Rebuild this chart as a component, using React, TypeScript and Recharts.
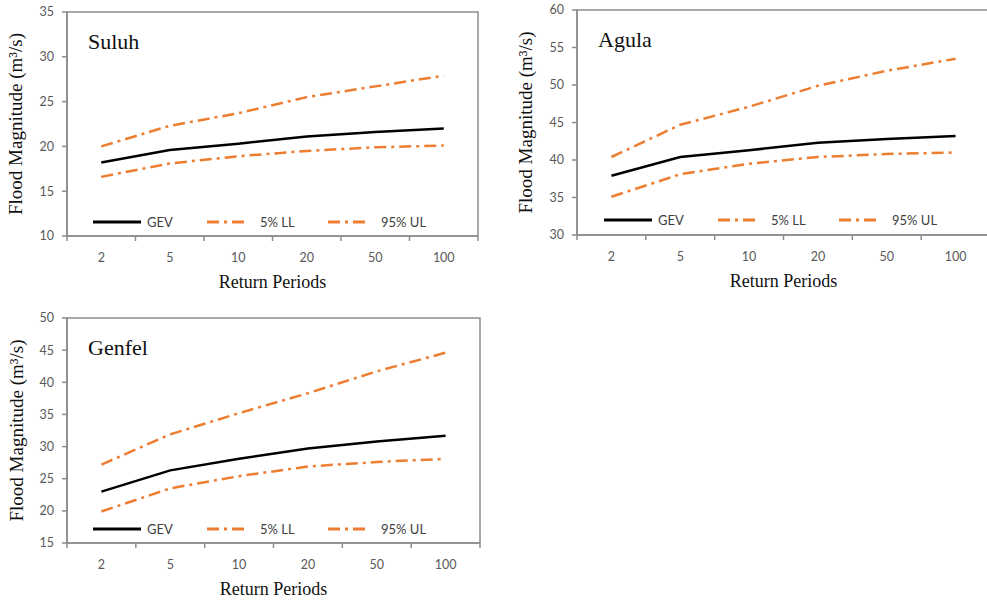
import React from 'react';
import { LineChart, Line, XAxis, YAxis, ReferenceArea, Legend } from 'recharts';

const categories = ['2', '5', '10', '20', '50', '100'];

const suluhGEV = [18.2, 19.6, 20.3, 21.1, 21.6, 22.0];
const suluhLL = [16.6, 18.1, 18.9, 19.5, 19.9, 20.1];
const suluhUL = [20.0, 22.3, 23.7, 25.5, 26.7, 27.9];
const suluhTicks = [10, 15, 20, 25, 30, 35];

const agulaGEV = [37.9, 40.4, 41.3, 42.3, 42.8, 43.2];
const agulaLL = [35.1, 38.1, 39.5, 40.4, 40.8, 41.0];
const agulaUL = [40.4, 44.7, 47.1, 49.9, 51.9, 53.5];
const agulaTicks = [30, 35, 40, 45, 50, 55, 60];

const genfelGEV = [23.0, 26.3, 28.1, 29.7, 30.8, 31.7];
const genfelLL = [19.9, 23.5, 25.4, 26.9, 27.6, 28.1];
const genfelUL = [27.2, 31.9, 35.2, 38.3, 41.7, 44.6];
const genfelTicks = [15, 20, 25, 30, 35, 40, 45, 50];

const seriesNames = ['GEV', '5% LL', '95% UL'];
const yTitle = 'Flood Magnitude (m\u00B3/s)';
const xTitle = 'Return Periods';

const AXIS = '#8c8c8c';
const ORANGE = '#ED7D31';
const DASH = '12 5 3 5';
const SANS = 'Lato, "Noto Sans", sans-serif';
const SERIF = '"Liberation Serif", "Times New Roman", serif';

const xTicks: number[] = [];
for (let i = 0; i <= categories.length; i++) {
  xTicks.push(i);
  if (i < categories.length) xTicks.push(i + 0.5);
}

const XTick = (props: any) => {
  const { x, y, payload } = props;
  const v = payload.value;
  if (Number.isInteger(v)) {
    return <line x1={x} x2={x} y1={y} y2={y + 5} stroke={AXIS} strokeWidth={1.5} />;
  }
  const label = categories[Math.floor(v)];
  return (
    <text x={x} y={y + 26} textAnchor="middle" fill="#595959" fontSize={12.5} fontFamily={SANS}>
      {label}
    </text>
  );
};

const legendOffsets = [
  { s: 0, e: 48, t: 54 },
  { s: 114, e: 154, t: 167 },
  { s: 235, e: 275, t: 288 },
];

const LegendContent = (props: any) => {
  const payload = [...(props.payload || [])].sort(
    (a: any, b: any) => seriesNames.indexOf(a.value) - seriesNames.indexOf(b.value)
  );
  return (
    <div style={{ position: 'relative', width: 360, height: 16, fontFamily: SANS, fontSize: 13, color: '#404040' }}>
      {payload.map((p: any, i: number) => {
        const o = legendOffsets[i] || legendOffsets[0];
        const dash = p.payload && p.payload.strokeDasharray;
        return (
          <React.Fragment key={i}>
            <svg style={{ position: 'absolute', left: o.s, top: 5 }} width={o.e - o.s} height={6}>
              <line x1={0} x2={o.e - o.s} y1={3} y2={3} stroke={p.color} strokeWidth={3} strokeDasharray={dash} />
            </svg>
            <span style={{ position: 'absolute', left: o.t, top: 0, lineHeight: '16px', whiteSpace: 'nowrap' }}>{p.value}</span>
          </React.Fragment>
        );
      })}
    </div>
  );
};

type PanelProps = {
  title: string;
  gev: number[];
  ll: number[];
  ul: number[];
  ticks: number[];
  left: number;
  top: number;
  width: number;
  height: number;
  margin: { top: number; right: number; left: number; bottom: number };
  yAxisWidth: number;
  yLabelOffset: number;
  legendLeft: number;
  legendTop: number;
};

const Panel = (p: PanelProps) => {
  const data = categories.map((c, i) => ({ pos: i + 0.5, cat: c, gev: p.gev[i], ll: p.ll[i], ul: p.ul[i] }));
  const yMin = p.ticks[0];
  const yMax = p.ticks[p.ticks.length - 1];
  return (
    <div style={{ position: 'absolute', left: p.left, top: p.top }}>
      <LineChart width={p.width} height={p.height} data={data} margin={p.margin}>
        <ReferenceArea
          x1={0}
          x2={categories.length}
          y1={yMin}
          y2={yMax}
          fill="none"
          stroke={AXIS}
          strokeWidth={1.5}
          label={{ value: p.title, position: 'insideTopLeft', offset: 21, fontSize: 22, fontFamily: SERIF, fill: '#111' }}
        />
        <XAxis
          dataKey="pos"
          type="number"
          domain={[0, categories.length]}
          ticks={xTicks}
          interval={0}
          tickSize={0}
          tickMargin={0}
          tickLine={false}
          tick={<XTick />}
          axisLine={{ stroke: AXIS, strokeWidth: 1.5 }}
          height={60}
          label={{ value: xTitle, position: 'insideBottom', offset: 8, fontSize: 18, fontFamily: SERIF, fill: '#111' }}
        />
        <YAxis
          type="number"
          domain={[yMin, yMax]}
          ticks={p.ticks}
          interval={0}
          width={p.yAxisWidth}
          tickSize={5}
          tickMargin={8}
          tickLine={{ stroke: AXIS, strokeWidth: 1.5 }}
          axisLine={{ stroke: AXIS, strokeWidth: 1.5 }}
          tick={{ fill: '#595959', fontSize: 12.5, fontFamily: SANS }}
          label={{ value: yTitle, angle: -90, position: 'insideLeft', offset: p.yLabelOffset, textAnchor: 'middle', fontSize: 19, fontFamily: SERIF, fill: '#111' }}
        />
        <Line type="linear" dataKey="gev" name={seriesNames[0]} stroke="#000" strokeWidth={2.5} dot={false} isAnimationActive={false} />
        <Line type="linear" dataKey="ll" name={seriesNames[1]} stroke={ORANGE} strokeWidth={2.5} strokeDasharray={DASH} dot={false} isAnimationActive={false} />
        <Line type="linear" dataKey="ul" name={seriesNames[2]} stroke={ORANGE} strokeWidth={2.5} strokeDasharray={DASH} dot={false} isAnimationActive={false} />
        <Legend
          layout="horizontal"
          align="center"
          verticalAlign="middle"
          content={<LegendContent />}
          wrapperStyle={{ left: p.legendLeft, top: p.legendTop, width: 360, height: 16 }}
        />
      </LineChart>
    </div>
  );
};

export default function App() {
  return (
    <div style={{ position: 'absolute', left: 0, top: 0, width: 987, height: 601, overflow: 'hidden', background: '#fff' }}>
      <Panel
        title="Suluh"
        gev={suluhGEV}
        ll={suluhLL}
        ul={suluhUL}
        ticks={suluhTicks}
        left={0}
        top={0}
        width={490}
        height={300}
        margin={{ top: 12, right: 12, left: 0, bottom: 4 }}
        yAxisWidth={67}
        yLabelOffset={15}
        legendLeft={93}
        legendTop={214}
      />
      <Panel
        title="Agula"
        gev={agulaGEV}
        ll={agulaLL}
        ul={agulaUL}
        ticks={agulaTicks}
        left={500}
        top={0}
        width={490}
        height={300}
        margin={{ top: 10, right: 0, left: 0, bottom: 5 }}
        yAxisWidth={77}
        yLabelOffset={25}
        legendLeft={104}
        legendTop={212}
      />
      <Panel
        title="Genfel"
        gev={genfelGEV}
        ll={genfelLL}
        ul={genfelUL}
        ticks={genfelTicks}
        left={0}
        top={300}
        width={490}
        height={305}
        margin={{ top: 18, right: 10, left: 0, bottom: 2 }}
        yAxisWidth={67}
        yLabelOffset={16}
        legendLeft={93}
        legendTop={221}
      />
    </div>
  );
}
